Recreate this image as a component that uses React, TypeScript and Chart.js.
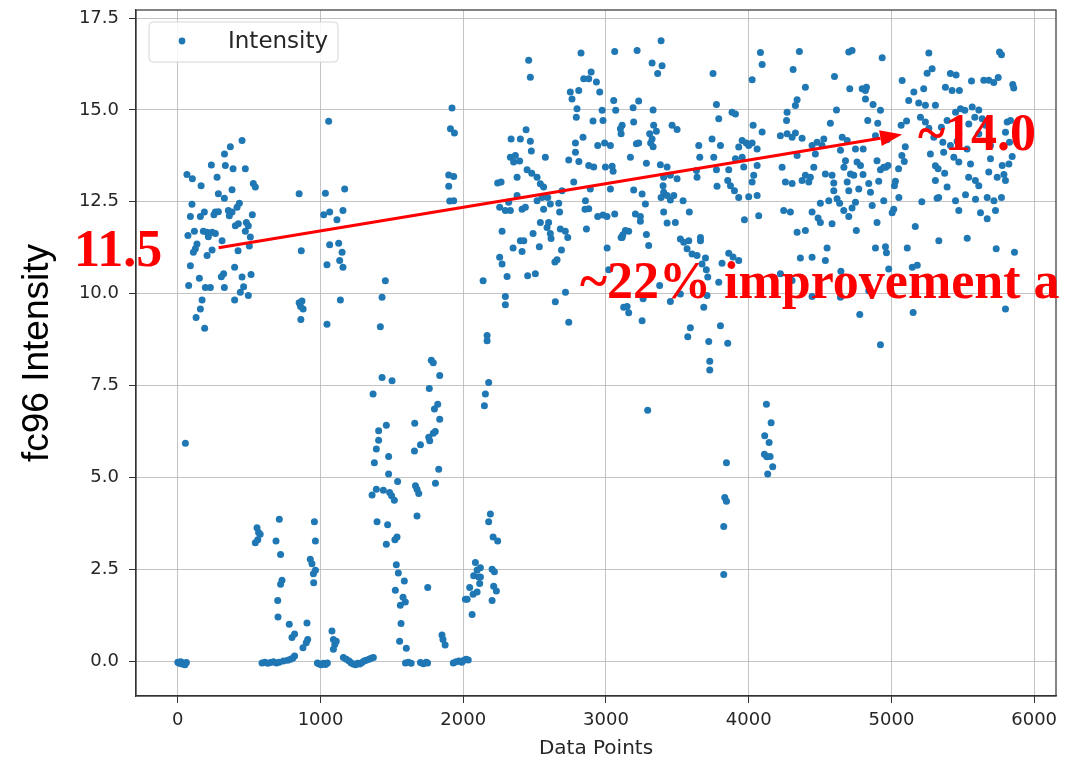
import React, { useEffect, useRef } from "react";
import { Chart, registerables } from "chart.js";

Chart.register(...registerables);

// ---- axis ticks ----
const xTicks = [0, 1000, 2000, 3000, 4000, 5000, 6000];
const yTicks = [0, 2.5, 5, 7.5, 10, 12.5, 15, 17.5];

// ---- data: [data point index, intensity] ----
const seg0: number[][] = [
  [0, -0.03], [10, -0.06], [20, -0.02], [30, -0.08], [40, -0.05], [50, -0.1], [60, -0.04], [53, 5.93],
  [450, 14.17], [368, 14.0], [327, 13.8], [235, 13.5], [333, 13.49], [387, 13.4], [473, 13.4], [64, 13.24],
  [102, 13.13], [275, 13.17], [163, 12.94], [529, 13.0], [543, 12.9], [380, 12.83], [284, 12.72], [326, 12.6],
  [431, 12.46], [99, 12.43], [415, 12.35], [88, 12.1], [158, 12.1], [186, 12.22], [263, 12.22], [284, 12.23],
  [354, 12.26], [380, 12.22], [253, 12.15], [361, 12.12], [522, 12.15], [424, 11.9], [403, 11.85], [480, 11.94],
  [494, 11.85], [116, 11.7], [179, 11.7], [205, 11.67], [240, 11.67], [263, 11.64], [71, 11.58], [214, 11.55],
  [473, 11.7], [508, 11.54], [310, 11.44], [501, 11.3], [134, 11.35], [123, 11.22], [109, 11.13], [240, 11.19],
  [205, 11.04], [422, 11.17], [88, 10.76], [398, 10.72], [321, 10.54], [305, 10.46], [513, 10.52], [450, 10.45],
  [151, 10.42], [76, 10.22], [193, 10.17], [228, 10.17], [326, 10.17], [461, 10.19], [438, 10.04], [494, 9.95],
  [398, 9.83], [170, 9.83], [158, 9.58], [128, 9.35], [188, 9.06],
];

const seg1: number[][] = [
  [555, 3.63], [566, 3.5], [577, 3.45], [543, 3.22], [560, 3.3], [711, 3.86], [688, 3.27], [720, 2.9],
  [730, 2.2], [720, 2.09], [700, 1.65], [702, 1.2], [781, 1.0], [818, 0.74], [800, 0.64],
  [590, -0.05], [610, -0.03], [630, -0.06], [650, -0.04], [670, -0.02], [690, -0.05], [710, -0.03], [740, 0.0],
  [770, 0.02], [790, 0.05], [805, 0.08], [818, 0.14],
  [877, 0.36], [900, 0.5], [910, 0.59], [905, 1.04], [957, 3.79], [964, 3.27], [928, 2.77], [940, 2.65],
  [964, 2.47], [950, 2.38], [952, 2.13],
  [978, -0.05], [990, -0.08], [1005, -0.1], [1020, -0.06], [1035, -0.09], [1048, -0.05],
  [1080, 0.82], [1090, 0.59], [1100, 0.45], [1090, 0.32], [1110, 0.54],
  [850, 12.72], [865, 11.17], [850, 9.75], [860, 9.65], [870, 9.8], [878, 9.58], [862, 9.3],
  [1057, 14.69], [1034, 12.73], [1169, 12.85], [1022, 12.15], [1064, 12.22], [1115, 12.01], [1157, 12.26],
  [1064, 11.33], [1127, 11.37], [1151, 11.13], [1045, 10.79], [1134, 10.9], [1157, 10.72], [1139, 9.83], [1045, 9.17],
];

const seg2: number[][] = [
  [1160, 0.1], [1180, 0.05], [1200, 0.0], [1215, -0.05], [1230, -0.08], [1245, -0.1], [1260, -0.06], [1275, -0.08],
  [1290, -0.04], [1305, 0.0], [1320, 0.02], [1340, 0.05], [1355, 0.08], [1370, 0.1],
  [1368, 7.27], [1431, 7.72], [1501, 7.63], [1461, 6.42], [1407, 6.27], [1407, 6.01], [1391, 5.77], [1377, 5.4],
  [1477, 5.57], [1477, 5.09], [1540, 4.89], [1361, 4.52], [1391, 4.68], [1440, 4.65], [1484, 4.59], [1498, 4.5],
  [1517, 4.38], [1396, 3.79], [1470, 3.71], [1536, 3.38], [1521, 3.3], [1461, 3.18], [1531, 2.62], [1545, 2.4],
  [1587, 2.18], [1524, 1.93], [1578, 1.74], [1594, 1.61], [1559, 1.52], [1564, 1.02], [1554, 0.54], [1601, 0.35],
  [1595, -0.05], [1615, -0.03], [1635, -0.06], [1700, -0.04], [1720, -0.07], [1740, -0.03], [1750, -0.05],
  [1454, 10.35], [1431, 9.9], [1419, 9.1],
  [1776, 8.19], [1790, 8.12], [1835, 7.77], [1762, 7.42], [1821, 6.99], [1798, 6.86], [1835, 6.58], [1804, 6.25],
  [1790, 6.2], [1758, 6.09], [1765, 6.0], [1700, 5.89], [1658, 5.72], [1660, 6.47], [1828, 5.22], [1805, 4.84],
  [1665, 4.77], [1676, 4.68], [1688, 4.56], [1676, 3.95], [1751, 2.0], [1851, 0.71], [1858, 0.59], [1873, 0.44],
  [1930, -0.05], [1950, -0.02], [1970, 0.0], [1990, -0.03], [2005, 0.02], [2020, 0.05], [2035, 0.03],
  [1921, 15.05], [1910, 14.49], [1938, 14.37], [1898, 13.23], [1933, 13.19], [1898, 12.92], [1905, 12.52], [1933, 12.53],
];

const seg3: number[][] = [
  [2015, 1.68], [2045, 2.0], [2069, 1.82], [2027, 1.68], [2097, 1.88], [2062, 1.27], [2085, 2.68], [2120, 2.54],
  [2097, 2.48], [2073, 2.32], [2108, 2.29], [2120, 2.29], [2115, 2.11], [2202, 2.5], [2218, 2.43], [2213, 2.04],
  [2232, 1.91], [2202, 1.65], [2190, 4.0], [2178, 3.79], [2209, 3.38], [2241, 3.27], [2148, 6.95], [2155, 7.27],
  [2178, 7.58], [2167, 8.72], [2167, 8.86], [2139, 10.35],
  [2295, 9.92], [2295, 9.7], [2272, 11.7], [2255, 10.99], [2272, 10.81], [2307, 10.47], [2458, 16.35], [2470, 15.89],
  [2335, 14.21], [2400, 14.21], [2440, 14.46], [2470, 14.15], [2477, 13.88], [2330, 13.71], [2365, 13.76], [2353, 13.58],
  [2395, 13.61], [2377, 13.17], [2447, 13.37], [2480, 13.28], [2517, 13.17], [2575, 13.71], [2241, 13.01], [2265, 13.04],
  [2540, 12.99], [2563, 12.9], [2377, 12.67], [2318, 12.49], [2255, 12.35], [2295, 12.26], [2330, 12.26], [2412, 12.3],
  [2435, 12.35], [2517, 12.53], [2552, 12.62], [2592, 12.62], [2610, 12.44], [2563, 12.3], [2669, 12.46], [2675, 12.22],
  [2692, 12.8], [2774, 13.04], [2540, 11.94], [2598, 11.94], [2587, 11.8], [2610, 11.64], [2615, 11.5], [2680, 11.76],
  [2715, 11.7], [2732, 11.53], [2489, 11.64], [2400, 11.44], [2424, 11.44], [2349, 11.24], [2412, 11.15], [2533, 11.28],
  [2688, 11.19], [2657, 10.92], [2642, 10.86], [2505, 10.54], [2451, 10.49], [2716, 10.04], [2645, 9.78], [2739, 9.22],
  [2825, 16.55], [2896, 16.03], [2844, 15.85], [2879, 15.85], [2933, 15.76], [2750, 15.49], [2809, 15.53], [2762, 15.3],
  [2956, 15.49], [2797, 15.03], [2973, 14.99], [2792, 14.8], [2979, 14.71], [2909, 14.7], [2839, 14.26], [2786, 14.1],
  [2942, 14.03], [2990, 14.1], [2786, 13.85], [2739, 13.64], [2810, 13.6], [2879, 13.49], [2914, 13.45], [2996, 13.45],
  [2890, 12.85], [2856, 12.53], [2879, 12.31], [2853, 12.3], [2942, 12.1], [2979, 12.14], [2863, 11.76], [3008, 11.24],
  [3019, 10.65],
];

const seg4: number[][] = [
  [3061, 16.59], [3054, 15.26], [3068, 14.99], [3101, 14.49], [3031, 14.03], [3043, 13.47], [3050, 13.33], [3031, 12.85],
  [3007, 12.1], [3061, 12.17], [3113, 11.53], [3124, 9.63],
  [3386, 16.88], [3218, 16.62], [3323, 16.28], [3393, 16.2], [3362, 15.99], [3750, 15.99], [4082, 16.56], [4094, 16.24],
  [4024, 15.82], [3229, 15.24], [3190, 15.06], [3330, 15.0], [3774, 15.15], [3883, 14.94], [3907, 14.89], [3790, 14.76],
  [3194, 14.67], [3113, 14.58], [3334, 14.58], [3463, 14.58], [3498, 14.47], [3306, 14.35], [3353, 14.42], [4031, 14.58],
  [4094, 14.4], [3743, 14.21], [3650, 14.03], [3802, 14.03], [3323, 14.21], [3313, 14.1], [3106, 14.35], [3213, 14.08],
  [3229, 14.1], [3330, 14.0], [3171, 13.71], [3283, 13.55], [3954, 14.17], [3983, 14.1], [3930, 13.99], [4000, 14.03],
  [4024, 14.1], [4059, 13.94], [3657, 13.71], [3755, 13.71], [3907, 13.67], [3954, 13.71], [3381, 13.51], [3428, 13.45],
  [3451, 13.22], [3404, 13.17], [3498, 13.13], [3634, 13.35], [3638, 13.17], [3774, 13.37], [3860, 13.37], [3965, 13.45],
  [4059, 13.49], [4035, 13.22], [3194, 12.82], [3253, 12.71], [3400, 12.94], [3404, 12.76], [3428, 12.67], [3386, 12.62],
  [3451, 12.55], [3475, 12.67], [3540, 12.53], [3778, 12.92], [3853, 13.08], [3872, 12.94], [3900, 12.8], [3930, 12.62],
  [4000, 12.64], [4059, 12.67], [4024, 13.04], [3276, 12.44], [3206, 12.17], [3241, 12.1], [3404, 12.22], [3428, 11.92],
  [3486, 11.94], [3584, 12.22], [3241, 11.97], [3970, 12.01], [4070, 12.12], [3136, 11.72], [3159, 11.7], [3106, 11.53],
  [3118, 11.6], [3283, 11.61], [3299, 11.31], [3521, 11.49], [3545, 11.4], [3580, 11.44], [3568, 11.22], [3662, 11.53],
  [3662, 11.44], [3603, 11.08], [3638, 11.04], [3697, 10.97], [3673, 10.81], [3703, 10.65], [3860, 11.1], [3890, 11.0],
  [3930, 10.9], [3813, 10.83], [3713, 10.45], [3708, 9.95], [3790, 10.31], [3376, 10.22], [3521, 9.99], [3451, 9.79],
  [3260, 9.86], [3148, 9.65], [3159, 9.48], [3253, 9.26], [3685, 9.63], [3591, 9.07], [3573, 8.83], [3802, 9.13],
  [3720, 8.7], [3853, 8.65],
  [3727, 8.16], [3727, 7.92], [3292, 6.83], [3844, 5.4], [3832, 4.45], [3844, 4.35], [3825, 3.66], [3825, 2.36],
  [4124, 6.99], [4157, 6.49], [4112, 6.13], [4143, 5.95], [4110, 5.63], [4127, 5.56], [4150, 5.57], [4168, 5.29],
  [4133, 5.09],
];

const seg5: number[][] = [
  [4355, 16.59], [4701, 16.58], [4724, 16.62], [4935, 16.42], [4311, 16.1], [4601, 15.91], [4397, 15.62], [4708, 15.58],
  [4795, 15.58], [4825, 15.62], [4818, 15.53], [4339, 15.28], [4327, 15.12], [4615, 15.0], [4818, 15.3], [4871, 15.15],
  [4923, 14.99], [4269, 14.94], [4265, 14.71], [4572, 14.64], [4834, 14.71], [4904, 14.64], [4269, 14.35], [4327, 14.37],
  [4304, 14.26], [4374, 14.23], [4222, 14.3], [4526, 14.21], [4655, 14.26], [4690, 14.17], [4748, 13.94], [4802, 13.94],
  [4888, 14.3], [4970, 14.19], [4479, 14.12], [4444, 14.03], [4514, 14.03], [4339, 13.76], [4467, 13.8], [4643, 13.9],
  [4678, 13.62], [4759, 13.58], [4783, 13.49], [4899, 13.62], [4234, 13.44], [4667, 13.44], [4456, 13.44], [4960, 13.44],
  [4976, 13.49], [4397, 13.22], [4432, 13.17], [4537, 13.26], [4584, 13.22], [4713, 13.26], [4736, 13.22], [4801, 13.24],
  [4923, 13.37], [4946, 13.44], [4257, 13.04], [4304, 13.0], [4374, 13.08], [4421, 13.04], [4596, 13.01], [4690, 13.04],
  [4841, 13.0], [4853, 12.76], [4911, 13.06], [4596, 12.8], [4619, 12.58], [4771, 12.85], [4701, 12.8], [4637, 12.46],
  [4502, 12.46], [4561, 12.53], [4748, 12.49], [4865, 12.4], [4946, 12.53], [4245, 12.26], [4292, 12.22], [4444, 12.22],
  [4666, 12.26], [4724, 12.33], [4701, 12.1], [4486, 12.06], [4502, 11.94], [4584, 11.9], [4899, 11.94], [4339, 11.67],
  [4397, 11.72], [4754, 11.72], [4549, 11.24], [4888, 11.24], [4958, 11.28], [4965, 11.11], [4362, 10.97], [4444, 10.99],
  [4537, 10.9], [4981, 10.67], [4646, 10.61], [4222, 10.54], [4304, 10.36], [4444, 9.92], [4643, 9.9], [4841, 10.08],
  [4778, 9.43], [4923, 8.61],
];

const seg6: number[][] = [
  [5021, 12.94], [5028, 13.06], [5052, 12.62], [5016, 12.3], [5005, 12.2], [5111, 11.24], [5146, 10.72], [5181, 10.77],
  [5152, 9.49], [5167, 11.83], [5213, 12.5], [5073, 13.76], [5090, 13.6], [5050, 13.4], [5097, 14.0], [5068, 14.58],
  [5106, 14.7], [5121, 15.26], [5157, 15.49], [5075, 15.8], [5191, 15.19], [5226, 15.58], [5238, 15.13], [5250, 16.0],
  [5262, 16.55], [5285, 16.12], [5203, 14.8], [5238, 14.67], [5262, 14.5], [5297, 14.26], [5273, 13.8], [5308, 13.48],
  [5320, 12.6],
  [5757, 16.58], [5771, 16.5], [5413, 15.99], [5453, 15.95], [5561, 15.79], [5647, 15.81], [5682, 15.81], [5748, 15.88],
  [5717, 15.75], [5850, 15.69], [5857, 15.6], [5378, 15.62], [5425, 15.53], [5476, 15.53], [5308, 15.13], [5484, 15.03],
  [5566, 15.08], [5612, 15.0], [5449, 14.94], [5514, 14.99], [5390, 14.71], [5584, 14.8], [5636, 14.76], [5542, 14.62],
  [5659, 14.58], [5811, 14.67], [5834, 14.71], [5350, 14.53], [5472, 14.35], [5612, 14.35], [5799, 14.39], [5360, 14.12],
  [5413, 14.03], [5460, 14.15], [5530, 13.94], [5694, 14.03], [5827, 14.12], [5846, 13.73], [5366, 13.85], [5437, 13.71],
  [5472, 13.58], [5554, 13.53], [5694, 13.67], [5776, 13.49], [5823, 13.53], [5327, 13.4], [5308, 13.08], [5373, 13.28],
  [5541, 13.17], [5588, 13.08], [5612, 12.94], [5682, 13.31], [5741, 13.17], [5788, 13.24], [5799, 13.08], [5390, 12.9],
  [5331, 12.62], [5449, 12.53], [5519, 12.69], [5589, 12.57], [5671, 12.62], [5718, 12.53], [5771, 12.62], [5472, 12.26],
  [5624, 12.2], [5671, 12.04], [5729, 12.26], [5332, 11.44], [5531, 11.51], [5734, 11.22], [5862, 11.13], [5799, 9.58],
];

// ---- annotation values ----
const arrowFrom = [286, 11.25];
const arrowTo = [5075, 14.33];
const startLabel = "11.5";
const endLabel = "~14.0";
const gainLabel = "~22% improvement a";

const BLUE = "#1f77b4";

const overlay = {
  id: "overlay",
  afterDraw(chart: any) {
    const { ctx, chartArea: a, scales } = chart;
    const sx = scales.x;
    const sy = scales.y;
    ctx.save();
    // frame
    ctx.strokeStyle = "#333333";
    ctx.lineWidth = 1.2;
    ctx.strokeRect(a.left, a.top, a.right - a.left, a.bottom - a.top);

    // legend
    const lx = a.left + 13, ly = a.top + 12, lw = 189, lh = 40;
    ctx.beginPath();
    ctx.roundRect(lx, ly, lw, lh, 4);
    ctx.fillStyle = "rgba(255,255,255,0.85)";
    ctx.fill();
    ctx.strokeStyle = "#d6d6d6";
    ctx.lineWidth = 1;
    ctx.stroke();
    ctx.beginPath();
    ctx.arc(lx + 33, ly + 19, 3.4, 0, Math.PI * 2);
    ctx.fillStyle = BLUE;
    ctx.fill();
    ctx.fillStyle = "#262626";
    ctx.font = "23px 'DejaVu Sans'";
    ctx.textBaseline = "middle";
    ctx.textAlign = "left";
    ctx.fillText("Intensity", lx + 79, ly + 20);

    // arrow
    const x1 = sx.getPixelForValue(arrowFrom[0]);
    const y1 = sy.getPixelForValue(arrowFrom[1]);
    const x2 = sx.getPixelForValue(arrowTo[0]);
    const y2 = sy.getPixelForValue(arrowTo[1]);
    const ang = Math.atan2(y2 - y1, x2 - x1);
    const hl = 22, hw = 8;
    const bx = x2 - hl * Math.cos(ang), by = y2 - hl * Math.sin(ang);
    ctx.strokeStyle = "#ff0000";
    ctx.fillStyle = "#ff0000";
    ctx.lineWidth = 3;
    ctx.beginPath();
    ctx.moveTo(x1, y1);
    ctx.lineTo(bx, by);
    ctx.stroke();
    ctx.beginPath();
    ctx.moveTo(x2, y2);
    ctx.lineTo(bx + hw * Math.sin(ang), by - hw * Math.cos(ang));
    ctx.lineTo(bx - hw * Math.sin(ang), by + hw * Math.cos(ang));
    ctx.closePath();
    ctx.fill();

    // labels
    ctx.font = "bold 52px 'Liberation Serif'";
    ctx.textBaseline = "alphabetic";
    ctx.textAlign = "left";
    ctx.fillText(startLabel, 74, 266);
    ctx.fillText(endLabel, 918, 150);
    ctx.fillText(gainLabel, 580, 298);
    ctx.restore();
  },
};

export default function App() {
  const ref = useRef<HTMLCanvasElement>(null);
  useEffect(() => {
    const all = [...seg0, ...seg1, ...seg2, ...seg3, ...seg4, ...seg5, ...seg6].map(([x, y]) => ({ x, y }));
    const chart = new Chart(ref.current as HTMLCanvasElement, {
      type: "scatter",
      data: {
        datasets: [
          {
            label: "Intensity",
            data: all,
            backgroundColor: BLUE,
            borderColor: BLUE,
            borderWidth: 0,
            pointRadius: 3.5,
          },
        ],
      },
      options: {
        animation: false,
        responsive: false,
        devicePixelRatio: 1,
        layout: { padding: { left: 0, right: 10, top: 10, bottom: 0 } },
        plugins: { legend: { display: false }, tooltip: { enabled: false } },
        scales: {
          x: {
            type: "linear",
            min: -293,
            max: 6153,
            afterBuildTicks: (s: any) => { s.ticks = xTicks.map((v) => ({ value: v })); },
            afterFit: (s: any) => { s.height = 65; s.paddingLeft = 0; s.paddingRight = 0; },
            grid: { color: "rgba(176,176,176,0.75)", lineWidth: 1, tickLength: 7, tickColor: "#333333" },
            border: { color: "#333333", width: 1.2 },
            ticks: {
              color: "#262626",
              font: { family: "'DejaVu Sans'", size: 18 },
              padding: 7,
              maxRotation: 0,
              callback: (v: any) => String(v),
            },
            title: {
              display: true,
              text: "Data Points",
              color: "#262626",
              font: { family: "'DejaVu Sans'", size: 20 },
              padding: 0,
            },
          },
          y: {
            type: "linear",
            min: -0.95,
            max: 17.72,
            afterBuildTicks: (s: any) => { s.ticks = yTicks.map((v) => ({ value: v })); },
            afterFit: (s: any) => { s.width = 136; s.paddingTop = 0; s.paddingBottom = 0; },
            grid: { color: "rgba(176,176,176,0.75)", lineWidth: 1, tickLength: 7, tickColor: "#333333" },
            border: { color: "#333333", width: 1.2 },
            ticks: {
              color: "#262626",
              font: { family: "'DejaVu Sans'", size: 18 },
              padding: 10,
              callback: (v: any) => Number(v).toFixed(1),
            },
            title: {
              display: true,
              text: "fc96 Intensity",
              color: "#000000",
              font: { family: "'Liberation Sans'", size: 37 },
              padding: 16,
            },
          },
        },
      },
      plugins: [overlay],
    } as any);
    return () => chart.destroy();
  }, []);
  return (
    <div style={{ position: "absolute", left: 0, top: 0, width: 1066, height: 761, background: "#fff" }}>
      <canvas ref={ref} width={1066} height={761} style={{ display: "block" }} />
    </div>
  );
}
